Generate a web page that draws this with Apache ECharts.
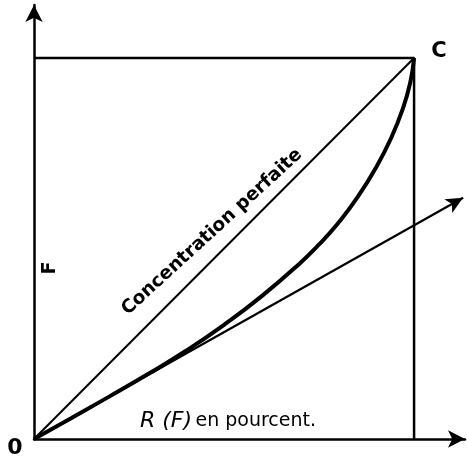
<!DOCTYPE html>
<html>
<head>
<meta charset="utf-8">
<script src="https://cdn.jsdelivr.net/npm/echarts@6/dist/echarts.min.js"></script>
<style>
  html,body{margin:0;padding:0;background:#fff;}
  #chart{width:467px;height:462px;}
</style>
</head>
<body>
<div id="chart"></div>
<script>
// courbe de concentration R(F), en pourcent
var curveX = [0, 10, 20, 30, 40, 50, 60, 70, 75, 80, 85, 90, 94, 97, 99, 100];
var curveY = [0, 5.6, 11.25, 17.05, 23.15, 29.95, 37.55, 46.15, 51.05, 56.65, 63.25, 71.25, 79.05, 86.55, 93.55, 100];
var diagX = [0, 100], diagY = [0, 100];         // concentration parfaite
var boxX = [0, 100, 100], boxY = [100, 100, 0]; // carré
var tangentEnd = [112.9, 63.3];                  // tangente à l'origine
var xMax = 113.4, yMax = 113.9;

function pairs(xs, ys){
    var out = [];
    for(var i=0;i<xs.length;i++){ out.push([xs[i], ys[i]]); }
    return out;
}

var chart = echarts.init(document.getElementById('chart'));
var ink = '#000';
var font = '"DejaVu Sans"';

chart.setOption({
    animation: false,
    backgroundColor: '#fff',
    grid: {left: 34, right: 2, top: 5, bottom: 23},
    xAxis: {
        type: 'value', min: 0, max: xMax,
        axisLine: {show: true, lineStyle: {color: ink, width: 2.5}, symbol: ['none', 'arrow'], symbolSize: [13, 17]},
        axisTick: {show: false}, axisLabel: {show: false}, splitLine: {show: false}
    },
    yAxis: {
        type: 'value', min: 0, max: yMax,
        axisLine: {show: true, lineStyle: {color: ink, width: 2.5}, symbol: ['none', 'arrow'], symbolSize: [13, 17]},
        axisTick: {show: false}, axisLabel: {show: false}, splitLine: {show: false}
    },
    series: [
        {type: 'line', data: pairs(boxX, boxY), symbol: 'none', lineStyle: {color: ink, width: 2.5}},
        {type: 'line', data: pairs(diagX, diagY), symbol: 'none', lineStyle: {color: ink, width: 2}},
        {type: 'line', data: pairs(curveX, curveY), symbol: 'none', smooth: 0.5,
         lineStyle: {color: ink, width: 4}},
        {type: 'line', data: [], symbol: 'none',
         markLine: {
            silent: true, symbol: ['none', 'arrow'], symbolSize: [12, 17],
            label: {show: false},
            lineStyle: {color: ink, width: 2.2, type: 'solid'},
            data: [[{coord: [0, 0]}, {coord: tangentEnd}]]
         }}
    ],
    graphic: [
        {type: 'text', x: 212, y: 232, rotation: 0.74,
         style: {text: 'Concentration perfaite', font: 'bold 18.5px ' + font, fill: ink, align: 'center', verticalAlign: 'middle'}},
        {type: 'text', x: 228, y: 421,
         style: {text: '{a|R (F)} {b|en pourcent.}', fill: ink, align: 'center', verticalAlign: 'middle',
                 rich: {a: {font: 'italic 22px ' + font, fill: ink}, b: {font: '19px ' + font, fill: ink}}}},
        {type: 'text', x: 50, y: 268, rotation: Math.PI / 2,
         style: {text: 'F', font: 'bold 19px ' + font, fill: ink, align: 'center', verticalAlign: 'middle'}},
        {type: 'text', x: 15, y: 448,
         style: {text: '0', font: 'bold 22px ' + font, fill: ink, align: 'center', verticalAlign: 'middle'}},
        {type: 'text', x: 439, y: 52,
         style: {text: 'C', font: 'bold 21px ' + font, fill: ink, align: 'center', verticalAlign: 'middle'}}
    ]
});
</script>
</body>
</html>
